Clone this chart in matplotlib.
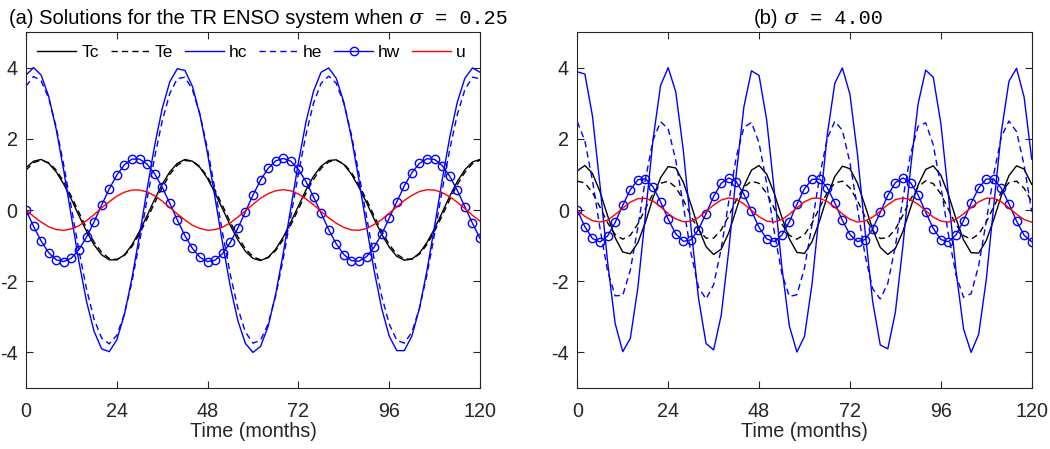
import matplotlib
matplotlib.use("Agg")
import matplotlib.pyplot as plt
from matplotlib.offsetbox import TextArea, HPacker, AnchoredOffsetbox

# ---------------- data ----------------
time = list(range(0, 121, 2))

a_Tc = [1.19, 1.37, 1.42, 1.31, 1.07, 0.72, 0.30, -0.16, -0.60, -0.98,
        -1.26, -1.40, -1.40, -1.26, -0.98, -0.60, -0.16, 0.30, 0.72, 1.07,
        1.31, 1.42, 1.37, 1.19, 0.88, 0.47, 0.02, -0.43, -0.84, -1.16,
        -1.36, -1.42, -1.33, -1.10, -0.76, -0.34, 0.11, 0.56, 0.95, 1.23,
        1.39, 1.41, 1.28, 1.01, 0.64, 0.21, -0.25, -0.68, -1.04, -1.30,
        -1.41, -1.38, -1.21, -0.91, -0.52, -0.07, 0.39, 0.80, 1.13, 1.35, 1.42]
a_Te = [1.12, 1.33, 1.40, 1.33, 1.12, 0.79, 0.38, -0.07, -0.51, -0.90,
        -1.19, -1.36, -1.39, -1.28, -1.03, -0.67, -0.25, 0.20, 0.63, 1.00,
        1.26, 1.39, 1.37, 1.22, 0.93, 0.55, 0.11, -0.34, -0.75, -1.09,
        -1.31, -1.40, -1.34, -1.14, -0.83, -0.42, 0.02, 0.47, 0.86, 1.17,
        1.35, 1.40, 1.30, 1.06, 0.71, 0.29, -0.16, -0.59, -0.97, -1.24,
        -1.38, -1.38, -1.24, -0.97, -0.59, -0.16, 0.29, 0.71, 1.06, 1.30, 1.40]
a_hc = [3.79, 4.00, 3.79, 3.19, 2.26, 1.09, -0.19, -1.46, -2.57, -3.41,
        -3.90, -3.98, -3.65, -2.94, -1.92, -0.71, 0.58, 1.81, 2.85, 3.60,
        3.97, 3.92, 3.47, 2.66, 1.58, 0.32, -0.96, -2.15, -3.11, -3.75,
        -4.00, -3.83, -3.27, -2.36, -1.21, 0.06, 1.33, 2.47, 3.34, 3.87,
        3.99, 3.70, 3.03, 2.04, 0.84, -0.45, -1.69, -2.76, -3.54, -3.95,
        -3.95, -3.54, -2.76, -1.69, -0.45, 0.84, 2.04, 3.03, 3.70, 3.99, 3.87]
a_he = [3.48, 3.75, 3.63, 3.14, 2.32, 1.25, 0.06, -1.14, -2.22, -3.07,
        -3.60, -3.76, -3.52, -2.92, -2.02, -0.90, 0.30, 1.48, 2.50, 3.27,
        3.69, 3.73, 3.38, 2.68, 1.70, 0.55, -0.67, -1.81, -2.76, -3.43,
        -3.74, -3.66, -3.20, -2.41, -1.37, -0.18, 1.02, 2.12, 3.00, 3.56,
        3.76, 3.56, 3.00, 2.12, 1.02, -0.18, -1.37, -2.41, -3.20, -3.66,
        -3.74, -3.43, -2.76, -1.81, -0.67, 0.55, 1.70, 2.68, 3.38, 3.73, 3.69]
a_hw = [0.00, -0.46, -0.87, -1.20, -1.40, -1.45, -1.35, -1.11, -0.76, -0.33,
        0.14, 0.59, 0.98, 1.27, 1.43, 1.43, 1.29, 1.02, 0.64, 0.19,
        -0.28, -0.72, -1.08, -1.33, -1.45, -1.41, -1.22, -0.91, -0.51, -0.05,
        0.42, 0.84, 1.17, 1.38, 1.45, 1.37, 1.14, 0.80, 0.37, -0.09,
        -0.55, -0.95, -1.25, -1.42, -1.44, -1.31, -1.05, -0.68, -0.23, 0.23,
        0.68, 1.05, 1.31, 1.44, 1.42, 1.25, 0.95, 0.55, 0.09, -0.37, -0.80]
a_u = [0.00, -0.18, -0.34, -0.47, -0.55, -0.57, -0.53, -0.44, -0.30, -0.13,
       0.06, 0.23, 0.39, 0.50, 0.56, 0.56, 0.51, 0.40, 0.25, 0.07,
       -0.11, -0.28, -0.43, -0.52, -0.57, -0.55, -0.48, -0.36, -0.20, -0.02,
       0.16, 0.33, 0.46, 0.54, 0.57, 0.54, 0.45, 0.31, 0.15, -0.04,
       -0.22, -0.37, -0.49, -0.56, -0.57, -0.52, -0.41, -0.27, -0.09, 0.09,
       0.27, 0.41, 0.52, 0.57, 0.56, 0.49, 0.37, 0.22, 0.04, -0.15, -0.31]

b_Tc = [1.10, 1.25, 1.03, 0.51, -0.16, -0.78, -1.18, -1.23, -0.92, -0.34,
        0.34, 0.91, 1.22, 1.18, 0.78, 0.16, -0.51, -1.03, -1.25, -1.10,
        -0.64, 0.02, 0.67, 1.12, 1.25, 1.01, 0.47, -0.20, -0.81, -1.19,
        -1.22, -0.89, -0.30, 0.38, 0.94, 1.23, 1.16, 0.75, 0.12, -0.54,
        -1.05, -1.25, -1.08, -0.60, 0.06, 0.70, 1.14, 1.24, 0.98, 0.43,
        -0.24, -0.84, -1.20, -1.21, -0.86, -0.26, 0.41, 0.97, 1.24, 1.15, 0.72]
b_Te = [0.81, 0.76, 0.49, 0.08, -0.36, -0.69, -0.82, -0.71, -0.39, 0.04,
        0.46, 0.75, 0.81, 0.64, 0.28, -0.16, -0.56, -0.79, -0.79, -0.56,
        -0.17, 0.28, 0.64, 0.81, 0.75, 0.47, 0.05, -0.39, -0.71, -0.82,
        -0.69, -0.37, 0.07, 0.49, 0.76, 0.81, 0.62, 0.26, -0.19, -0.58,
        -0.80, -0.78, -0.54, -0.14, 0.30, 0.65, 0.82, 0.74, 0.45, 0.02,
        -0.41, -0.72, -0.82, -0.68, -0.34, 0.10, 0.51, 0.77, 0.81, 0.61, 0.23]
b_hc = [3.88, 3.82, 2.64, 0.69, -1.46, -3.19, -3.98, -3.61, -2.18, -0.12,
        1.98, 3.50, 4.00, 3.32, 1.67, -0.46, -2.47, -3.75, -3.93, -2.96,
        -1.13, 1.03, 2.90, 3.91, 3.78, 2.54, 0.56, -1.58, -3.26, -3.99,
        -3.55, -2.07, 0.02, 2.10, 3.56, 3.99, 3.25, 1.55, -0.59, -2.57,
        -3.79, -3.90, -2.87, -1.00, 1.16, 2.98, 3.93, 3.73, 2.44, 0.43,
        -1.70, -3.34, -4.00, -3.49, -1.96, 0.15, 2.21, 3.62, 3.98, 3.17, 1.43]
b_he = [2.48, 1.94, 0.83, -0.52, -1.72, -2.41, -2.40, -1.69, -0.48, 0.87,
        1.96, 2.48, 2.28, 1.40, 0.12, -1.20, -2.17, -2.50, -2.10, -1.09,
        0.24, 1.50, 2.32, 2.46, 1.88, 0.75, -0.60, -1.78, -2.43, -2.38,
        -1.63, -0.40, 0.95, 2.01, 2.49, 2.24, 1.33, 0.04, -1.27, -2.21,
        -2.50, -2.06, -1.01, 0.32, 1.57, 2.35, 2.45, 1.83, 0.67, -0.68,
        -1.83, -2.45, -2.35, -1.56, -0.32, 1.02, 2.06, 2.50, 2.20, 1.26, -0.05]
b_hw = [0.00, -0.47, -0.80, -0.90, -0.73, -0.35, 0.13, 0.57, 0.85, 0.88,
        0.65, 0.23, -0.26, -0.67, -0.88, -0.84, -0.55, -0.10, 0.38, 0.75,
        0.90, 0.79, 0.44, -0.03, -0.49, -0.81, -0.89, -0.71, -0.33, 0.16,
        0.60, 0.86, 0.87, 0.63, 0.20, -0.29, -0.69, -0.89, -0.83, -0.53,
        -0.07, 0.41, 0.77, 0.90, 0.77, 0.42, -0.06, -0.52, -0.83, -0.89,
        -0.70, -0.30, 0.19, 0.62, 0.87, 0.86, 0.61, 0.17, -0.31, -0.71, -0.89]
b_u = [0.00, -0.18, -0.30, -0.34, -0.28, -0.13, 0.05, 0.22, 0.32, 0.33,
       0.25, 0.09, -0.10, -0.25, -0.33, -0.32, -0.21, -0.04, 0.14, 0.28,
       0.34, 0.30, 0.17, -0.01, -0.19, -0.31, -0.34, -0.27, -0.12, 0.06,
       0.23, 0.33, 0.33, 0.24, 0.08, -0.11, -0.26, -0.34, -0.31, -0.20,
       -0.03, 0.15, 0.29, 0.34, 0.29, 0.16, -0.02, -0.20, -0.31, -0.34,
       -0.26, -0.11, 0.07, 0.23, 0.33, 0.33, 0.23, 0.06, -0.12, -0.27, -0.34]

series_names = ["Tc", "Te", "hc", "he", "hw", "u"]
xticks = [0, 24, 48, 72, 96, 120]
yticks = [-4, -2, 0, 2, 4]
xlabel_text = "Time (months)"
title_a = ["(a) Solutions for the TR ENSO system when", " \u03c3", " = 0.25"]
title_b = ["(b)", " \u03c3", " = 4.00"]

# ---------------- style ----------------
plt.rcParams["font.family"] = ["Liberation Sans", "DejaVu Sans"]
plt.rcParams["axes.unicode_minus"] = False
FS = 14.2
FS_T = 14.5
FS_L = 12.5
AXC = "#262626"

fig = plt.figure(figsize=(10.5, 4.49), dpi=100)
ax_a = fig.add_axes([26 / 1050, 61 / 449, 454 / 1050, 356 / 449])
ax_b = fig.add_axes([577.3 / 1050, 61 / 449, 454.4 / 1050, 356 / 449])

styles = {
    "Tc": dict(color="black", lw=1.0, ls="-"),
    "Te": dict(color="black", lw=1.0, ls=(0, (4.5, 3))),
    "hc": dict(color="blue", lw=1.0, ls="-"),
    "he": dict(color="blue", lw=1.0, ls=(0, (4.5, 3))),
    "hw": dict(color="blue", lw=1.0, ls="-", marker="o", ms=6, mfc="none",
               mec="blue", mew=1.0),
    "u": dict(color="red", lw=1.0, ls="-"),
}


def draw(ax, data):
    handles = []
    for name, vals in zip(series_names, data):
        h, = ax.plot(time, vals, label=name, **styles[name])
        handles.append(h)
    ax.set_xlim(0, 120)
    ax.set_ylim(-5, 5)
    ax.set_xticks(xticks)
    ax.set_yticks(yticks)
    ax.tick_params(direction="in", length=5, width=0.8, top=True, right=True,
                   labelsize=FS, colors=AXC)
    ax.tick_params(axis="x", pad=10)
    ax.tick_params(axis="y", pad=6)
    for sp in ax.spines.values():
        sp.set_color(AXC)
        sp.set_linewidth(0.8)
    ax.set_xlabel(xlabel_text, fontsize=FS, color=AXC, labelpad=1)
    return handles


def title(ax, parts, xfrac):
    props = [dict(fontsize=FS_T, color="black", family="Liberation Sans"),
             dict(fontsize=FS_T, color="black", family="DejaVu Serif", style="italic"),
             dict(fontsize=FS_T, color="black", family="Liberation Mono")]
    areas = [TextArea(t, textprops=p) for t, p in zip(parts, props)]
    box = HPacker(children=areas, align="baseline", pad=0, sep=0)
    anch = AnchoredOffsetbox(loc="lower center", child=box, pad=0, borderpad=0,
                             frameon=False, bbox_to_anchor=(xfrac, 1.012),
                             bbox_transform=ax.transAxes)
    ax.add_artist(anch)


handles = draw(ax_a, [a_Tc, a_Te, a_hc, a_he, a_hw, a_u])
draw(ax_b, [b_Tc, b_Te, b_hc, b_he, b_hw, b_u])

ax_a.legend(handles=handles, loc="center", bbox_to_anchor=(0.497, 0.942),
            ncol=6, frameon=False, fontsize=FS_L, handlelength=2.25,
            handletextpad=0.3, columnspacing=0.66, borderpad=0, borderaxespad=0)

title(ax_a, title_a, 0.512)
title(ax_b, title_b, 0.531)

fig.savefig("out.png", dpi=100)
